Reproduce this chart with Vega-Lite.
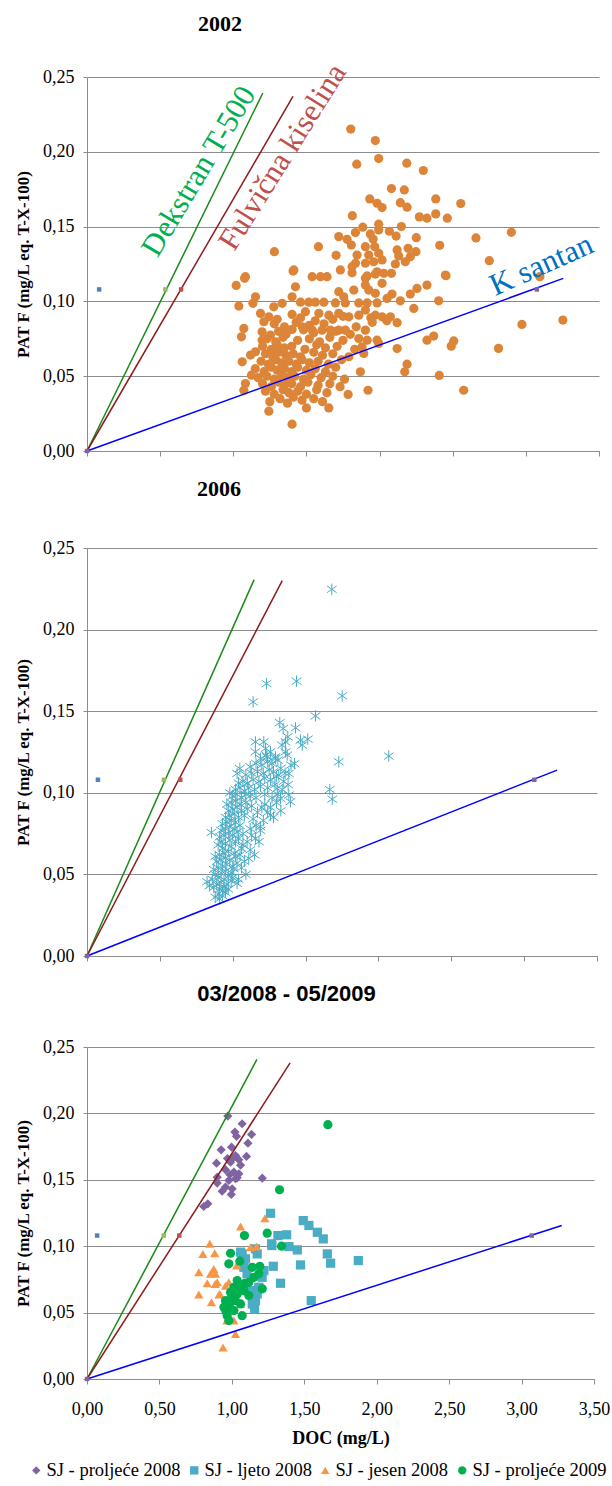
{
"$schema":"https://vega.github.io/schema/vega-lite/v6.json",
"padding":{"left":14,"top":12,"right":0,"bottom":0},
"spacing":18,
"config":{
 "view":{"stroke":null},
 "font":"Liberation Serif",
 "axis":{"labelFont":"Liberation Serif","labelFontSize":18,"labelColor":"#000","titleFont":"Liberation Serif","titleFontSize":17,"titleFontWeight":"bold","titleColor":"#000","domainColor":"#8c8c8c","tickColor":"#8c8c8c","gridColor":"#8c8c8c","gridOpacity":1,"labelFlush":false},
 "title":{"font":"Liberation Serif","fontSize":22,"fontWeight":"bold","color":"#000","anchor":"middle"}
},
"datasets":{
 "p2002":[
{"x":1.803,"y":0.2152},{"x":1.971,"y":0.2075},{"x":1.844,"y":0.1917},{"x":1.994,"y":0.1955},{"x":2.186,"y":0.1924},{"x":2.299,"y":0.1875},{"x":2.081,"y":0.1754},{"x":2.169,"y":0.1745},{"x":1.933,"y":0.1685},{"x":1.983,"y":0.1656},{"x":2.017,"y":0.1627},{"x":2.142,"y":0.166},{"x":2.188,"y":0.163},{"x":2.384,"y":0.1685},{"x":2.555,"y":0.1654},{"x":1.814,"y":0.1573},{"x":2.272,"y":0.1565},{"x":2.324,"y":0.1556},{"x":2.384,"y":0.1585},{"x":2.463,"y":0.1556},{"x":2.659,"y":0.1424},{"x":2.411,"y":0.1375},{"x":2.251,"y":0.1426},{"x":1.281,"y":0.1332},{"x":1.582,"y":0.1366},{"x":1.703,"y":0.1308},
{"x":1.721,"y":0.1433},{"x":1.778,"y":0.1415},{"x":1.807,"y":0.1377},{"x":1.835,"y":0.146},{"x":1.885,"y":0.1496},{"x":1.937,"y":0.1451},{"x":1.956,"y":0.1417},{"x":1.994,"y":0.1516},{"x":1.994,"y":0.1478},{"x":2.067,"y":0.1469},{"x":2.113,"y":0.1437},{"x":2.149,"y":0.15},{"x":1.903,"y":0.1366},{"x":1.967,"y":0.1366},{"x":1.994,"y":0.1322},{"x":1.926,"y":0.131},{"x":1.846,"y":0.131},{"x":1.835,"y":0.1255},{"x":1.903,"y":0.1255},{"x":1.96,"y":0.1265},{"x":2.017,"y":0.1277},{"x":2.12,"y":0.1344},{"x":2.131,"y":0.1304},{"x":2.195,"y":0.1355},{"x":2.21,"y":0.1299},{"x":2.249,"y":0.1332},{"x":2.108,"y":0.125},{"x":2.176,"y":0.1265},{"x":1.732,"y":0.121},{"x":1.812,"y":0.1232},{"x":1.812,"y":0.1192},{"x":1.915,"y":0.117},{"x":1.983,"y":0.1198},{"x":2.029,"y":0.1188},{"x":2.081,"y":0.1188},{"x":2.45,"y":0.1176},{"x":1.414,"y":0.121},{"x":1.083,"y":0.1165},{"x":1.539,"y":0.1165},{"x":1.596,"y":0.1165},{"x":1.641,"y":0.1165},{"x":2.75,"y":0.1272},
{"x":1.077,"y":0.1154},{"x":1.02,"y":0.1107},{"x":1.409,"y":0.1203},{"x":1.903,"y":0.1154},{"x":1.971,"y":0.1183},{"x":2.017,"y":0.1121},{"x":2.454,"y":0.1172},{"x":1.425,"y":0.1098},{"x":1.152,"y":0.1031},{"x":1.134,"y":0.0987},{"x":1.038,"y":0.0969},{"x":1.402,"y":0.1031},{"x":1.721,"y":0.1065},{"x":1.755,"y":0.1031},{"x":1.824,"y":0.1076},{"x":1.903,"y":0.1109},{"x":1.926,"y":0.1076},{"x":1.971,"y":0.1054},{"x":2.085,"y":0.1049},{"x":2.051,"y":0.102},{"x":2.142,"y":0.1004},{"x":2.21,"y":0.1049},{"x":2.256,"y":0.1087},{"x":2.324,"y":0.1109},{"x":2.234,"y":0.0953},{"x":2.404,"y":0.1004},{"x":1.277,"y":0.0964},{"x":1.334,"y":0.0987},{"x":1.459,"y":0.0995},{"x":1.516,"y":0.0995},{"x":1.561,"y":0.0995},{"x":1.619,"y":0.0995},{"x":1.698,"y":0.099},{"x":1.766,"y":0.099},{"x":1.858,"y":0.099},{"x":1.915,"y":0.099},{"x":1.983,"y":0.099},{"x":1.186,"y":0.092},{"x":1.209,"y":0.0864},{"x":1.243,"y":0.0897},{"x":1.402,"y":0.0913},{"x":1.493,"y":0.0931},{"x":1.585,"y":0.092},{"x":1.653,"y":0.0908},{"x":1.721,"y":0.092},{"x":1.79,"y":0.0897},{"x":1.858,"y":0.0908},{"x":1.903,"y":0.0942},{"x":1.971,"y":0.0908},{"x":2.017,"y":0.0897},{"x":2.074,"y":0.0897},{"x":2.12,"y":0.0858},{"x":1.072,"y":0.0819},{"x":1.056,"y":0.0763},{"x":1.197,"y":0.0797},{"x":1.197,"y":0.0741},{"x":1.254,"y":0.0775},{"x":1.402,"y":0.0813},{"x":1.471,"y":0.083},{"x":1.539,"y":0.0808},{"x":1.607,"y":0.0808},{"x":1.664,"y":0.0808},{"x":1.721,"y":0.0808},{"x":1.766,"y":0.0808},{"x":1.858,"y":0.0752},{"x":1.903,"y":0.0808},{"x":1.915,"y":0.0741},{"x":1.88,"y":0.0696},{"x":1.892,"y":0.0652},{"x":1.983,"y":0.0741},{"x":1.994,"y":0.0719},{"x":2.12,"y":0.0685},{"x":2.324,"y":0.0741},{"x":2.37,"y":0.0768},{"x":2.507,"y":0.0736},{"x":2.49,"y":0.0701},{"x":2.188,"y":0.058},{"x":2.172,"y":0.0529},{"x":2.408,"y":0.0505},{"x":2.575,"y":0.0406},{"x":1.921,"y":0.0406},{"x":1.869,"y":0.0529},{"x":1.785,"y":0.0378},{"x":1.653,"y":0.0288},{"x":1.5,"y":0.0288},{"x":1.402,"y":0.0179},{"x":1.243,"y":0.0266},{"x":1.061,"y":0.0596},{"x":1.118,"y":0.0641},{"x":1.152,"y":0.0663},{"x":1.124,"y":0.0507},{"x":1.083,"y":0.0451},{"x":1.072,"y":0.0406},
{"x":2.901,"y":0.1462},{"x":2.973,"y":0.0846},{"x":3.253,"y":0.0875},{"x":3.096,"y":0.1165},{"x":2.813,"y":0.0686},
{"x":1.25,"y":0.033},{"x":1.32,"y":0.035},{"x":1.37,"y":0.032},{"x":1.41,"y":0.036},{"x":1.47,"y":0.034},{"x":1.55,"y":0.035},{"x":1.61,"y":0.033},
{"x":1.22,"y":0.04},{"x":1.28,"y":0.038},{"x":1.34,"y":0.041},{"x":1.38,"y":0.039},{"x":1.44,"y":0.04},{"x":1.5,"y":0.038},{"x":1.57,"y":0.041},{"x":1.64,"y":0.039},
{"x":1.2,"y":0.045},{"x":1.26,"y":0.043},{"x":1.31,"y":0.046},{"x":1.35,"y":0.044},{"x":1.4,"y":0.045},{"x":1.46,"y":0.043},{"x":1.51,"y":0.046},{"x":1.58,"y":0.044},{"x":1.66,"y":0.045},{"x":1.73,"y":0.043},
{"x":1.17,"y":0.049},{"x":1.23,"y":0.05},{"x":1.28,"y":0.048},{"x":1.33,"y":0.051},{"x":1.37,"y":0.049},{"x":1.42,"y":0.05},{"x":1.48,"y":0.048},{"x":1.53,"y":0.051},{"x":1.6,"y":0.049},{"x":1.68,"y":0.05},{"x":1.76,"y":0.048},
{"x":1.15,"y":0.055},{"x":1.21,"y":0.053},{"x":1.26,"y":0.056},{"x":1.3,"y":0.054},{"x":1.35,"y":0.055},{"x":1.4,"y":0.053},{"x":1.44,"y":0.056},{"x":1.5,"y":0.054},{"x":1.56,"y":0.055},{"x":1.63,"y":0.053},{"x":1.7,"y":0.056},
{"x":1.19,"y":0.06},{"x":1.24,"y":0.058},{"x":1.29,"y":0.061},{"x":1.33,"y":0.059},{"x":1.38,"y":0.06},{"x":1.43,"y":0.058},{"x":1.47,"y":0.061},{"x":1.52,"y":0.059},{"x":1.58,"y":0.06},{"x":1.65,"y":0.058},{"x":1.74,"y":0.061},
{"x":1.22,"y":0.065},{"x":1.27,"y":0.063},{"x":1.31,"y":0.066},{"x":1.36,"y":0.064},{"x":1.41,"y":0.065},{"x":1.46,"y":0.063},{"x":1.55,"y":0.066},{"x":1.61,"y":0.064},{"x":1.68,"y":0.065},{"x":1.79,"y":0.063},
{"x":1.2,"y":0.07},{"x":1.26,"y":0.068},{"x":1.3,"y":0.071},{"x":1.35,"y":0.069},{"x":1.4,"y":0.07},{"x":1.49,"y":0.068},{"x":1.57,"y":0.071},{"x":1.63,"y":0.069},{"x":1.71,"y":0.07},{"x":1.83,"y":0.068},
{"x":1.23,"y":0.075},{"x":1.29,"y":0.073},{"x":1.34,"y":0.076},{"x":1.44,"y":0.074},{"x":1.52,"y":0.075},{"x":1.59,"y":0.073},{"x":1.66,"y":0.076},{"x":1.75,"y":0.074},
{"x":1.31,"y":0.08},{"x":1.36,"y":0.078},{"x":1.48,"y":0.081},{"x":1.55,"y":0.079},{"x":1.7,"y":0.08},{"x":1.8,"y":0.078},
{"x":1.28,"y":0.085},{"x":1.35,"y":0.083},{"x":1.43,"y":0.086},{"x":1.52,"y":0.084},{"x":1.62,"y":0.085},{"x":1.84,"y":0.083},{"x":1.95,"y":0.086},
{"x":1.3,"y":0.088},{"x":1.46,"y":0.089},{"x":1.56,"y":0.087},{"x":1.68,"y":0.088},{"x":1.75,"y":0.09},{"x":1.94,"y":0.089},{"x":2.05,"y":0.087}
 ],
 "p2006":[
{"x":1.232,"y":0.1669},{"x":1.438,"y":0.1684},{"x":1.14,"y":0.1557},{"x":1.751,"y":0.1594},{"x":1.568,"y":0.1471},{"x":2.071,"y":0.1225},{"x":1.728,"y":0.119},{"x":1.666,"y":0.102},{"x":1.683,"y":0.0961},{"x":1.68,"y":0.2247},{"x":1.323,"y":0.143},{"x":1.346,"y":0.1394},{"x":1.431,"y":0.1398},{"x":1.378,"y":0.1343},{"x":1.362,"y":0.1312},{"x":1.339,"y":0.1292},{"x":1.465,"y":0.1323},{"x":1.477,"y":0.1292},{"x":1.515,"y":0.1329},{"x":1.362,"y":0.1251},{"x":1.374,"y":0.1231},{"x":1.424,"y":0.1179},{"x":1.385,"y":0.1118},{"x":1.316,"y":0.1108},{"x":1.293,"y":0.121},{"x":1.156,"y":0.1312},{"x":1.213,"y":0.1312},{"x":1.156,"y":0.1251},{"x":1.225,"y":0.1271},{"x":1.236,"y":0.122},{"x":1.259,"y":0.1251},{"x":1.293,"y":0.122},{"x":1.049,"y":0.1149},{"x":1.03,"y":0.1118},{"x":1.385,"y":0.0986},{"x":1.396,"y":0.0945},{"x":1.328,"y":0.0965},{"x":1.305,"y":0.1026},{"x":1.259,"y":0.0863},{"x":1.19,"y":0.0792},{"x":1.156,"y":0.072},{"x":1.099,"y":0.07},{"x":1.11,"y":0.0598},{"x":0.854,"y":0.0757},{"x":0.824,"y":0.0455},{"x":1.03,"y":0.0445},{"x":1.007,"y":0.0536},
{"x":0.88,"y":0.036},{"x":0.9,"y":0.038},{"x":0.93,"y":0.037},{"x":0.95,"y":0.039},{"x":0.91,"y":0.041},{"x":0.87,"y":0.042},{"x":0.94,"y":0.042},{"x":0.97,"y":0.041},{"x":0.89,"y":0.044},{"x":0.92,"y":0.045},{"x":0.96,"y":0.044},{"x":0.99,"y":0.046},{"x":0.86,"y":0.047},{"x":0.9,"y":0.048},{"x":0.94,"y":0.047},{"x":0.97,"y":0.049},{"x":1.0,"y":0.048},{"x":0.88,"y":0.05},{"x":0.92,"y":0.051},{"x":0.95,"y":0.052},{"x":0.99,"y":0.051},{"x":0.84,"y":0.043},{"x":0.93,"y":0.04},{"x":0.91,"y":0.035},
{"x":0.87,"y":0.053},{"x":0.9,"y":0.054},{"x":0.93,"y":0.055},{"x":0.96,"y":0.056},{"x":1.0,"y":0.055},{"x":1.03,"y":0.057},{"x":0.89,"y":0.058},{"x":0.92,"y":0.059},{"x":0.95,"y":0.06},{"x":0.98,"y":0.059},{"x":1.02,"y":0.061},{"x":0.91,"y":0.062},{"x":0.94,"y":0.063},{"x":0.97,"y":0.064},{"x":1.01,"y":0.063},{"x":1.05,"y":0.062},{"x":0.88,"y":0.061},{"x":0.93,"y":0.066},{"x":0.99,"y":0.067},{"x":1.06,"y":0.066},{"x":1.08,"y":0.058},
{"x":0.9,"y":0.068},{"x":0.92,"y":0.07},{"x":0.95,"y":0.069},{"x":0.98,"y":0.071},{"x":1.02,"y":0.07},{"x":1.04,"y":0.072},{"x":0.91,"y":0.073},{"x":0.94,"y":0.074},{"x":0.97,"y":0.075},{"x":1.0,"y":0.074},{"x":1.03,"y":0.076},{"x":1.07,"y":0.075},{"x":0.92,"y":0.077},{"x":0.95,"y":0.078},{"x":0.98,"y":0.079},{"x":1.01,"y":0.078},{"x":1.05,"y":0.08},{"x":1.12,"y":0.078},{"x":0.93,"y":0.081},{"x":0.96,"y":0.082},{"x":0.99,"y":0.083},{"x":1.02,"y":0.082},
{"x":0.95,"y":0.085},{"x":0.98,"y":0.086},{"x":1.01,"y":0.087},{"x":1.04,"y":0.085},{"x":1.08,"y":0.086},{"x":1.14,"y":0.084},{"x":0.97,"y":0.089},{"x":1.0,"y":0.09},{"x":1.03,"y":0.091},{"x":1.06,"y":0.089},{"x":1.1,"y":0.09},{"x":1.17,"y":0.088},{"x":0.96,"y":0.093},{"x":0.99,"y":0.094},{"x":1.02,"y":0.095},{"x":1.05,"y":0.093},{"x":1.09,"y":0.094},{"x":1.13,"y":0.092},{"x":1.2,"y":0.091},
{"x":1.0,"y":0.098},{"x":1.03,"y":0.099},{"x":1.06,"y":0.097},{"x":1.09,"y":0.099},{"x":1.12,"y":0.098},{"x":1.16,"y":0.097},{"x":1.22,"y":0.099},{"x":1.27,"y":0.097},{"x":1.31,"y":0.099},{"x":0.98,"y":0.1},{"x":1.02,"y":0.102},{"x":1.05,"y":0.103},{"x":1.08,"y":0.101},{"x":1.11,"y":0.103},{"x":1.15,"y":0.102},{"x":1.19,"y":0.104},{"x":1.24,"y":0.103},{"x":1.29,"y":0.105},{"x":1.34,"y":0.102},{"x":1.04,"y":0.106},{"x":1.07,"y":0.107},{"x":1.1,"y":0.106},{"x":1.14,"y":0.108},{"x":1.18,"y":0.107},{"x":1.22,"y":0.109},{"x":1.26,"y":0.108},{"x":1.3,"y":0.11},{"x":1.35,"y":0.107},
{"x":1.09,"y":0.111},{"x":1.13,"y":0.112},{"x":1.17,"y":0.113},{"x":1.21,"y":0.112},{"x":1.25,"y":0.114},{"x":1.28,"y":0.113},{"x":1.33,"y":0.115},{"x":1.12,"y":0.116},{"x":1.16,"y":0.118},{"x":1.2,"y":0.117},{"x":1.24,"y":0.119},{"x":1.27,"y":0.118},{"x":1.31,"y":0.12},{"x":1.19,"y":0.121},{"x":1.23,"y":0.123},
{"x":1.22,"y":0.093},{"x":1.26,"y":0.091},{"x":1.3,"y":0.094},{"x":1.24,"y":0.088},{"x":1.33,"y":0.089},{"x":1.28,"y":0.085},{"x":1.21,"y":0.083},{"x":1.16,"y":0.08},{"x":1.13,"y":0.074},{"x":1.18,"y":0.07},{"x":1.07,"y":0.068},{"x":1.12,"y":0.065},{"x":1.06,"y":0.054},{"x":1.09,"y":0.05},{"x":1.04,"y":0.047},{"x":1.15,"y":0.062},{"x":1.19,"y":0.077},{"x":1.36,"y":0.112},{"x":1.4,"y":0.117},{"x":1.38,"y":0.105}
 ],
 "p0809":[
{"s":"SJ - proljeće 2008","x":0.972,"y":0.198},{"s":"SJ - proljeće 2008","x":1.071,"y":0.1922},{"s":"SJ - proljeće 2008","x":1.021,"y":0.1859},{"s":"SJ - proljeće 2008","x":1.032,"y":0.1827},{"s":"SJ - proljeće 2008","x":1.136,"y":0.1842},{"s":"SJ - proljeće 2008","x":1.111,"y":0.1776},{"s":"SJ - proljeće 2008","x":0.926,"y":0.1726},{"s":"SJ - proljeće 2008","x":0.998,"y":0.1746},{"s":"SJ - proljeće 2008","x":1.025,"y":0.1683},{"s":"SJ - proljeće 2008","x":1.002,"y":0.1659},{"s":"SJ - proljeće 2008","x":1.048,"y":0.1651},{"s":"SJ - proljeće 2008","x":0.991,"y":0.1633},{"s":"SJ - proljeće 2008","x":1.101,"y":0.1676},{"s":"SJ - proljeće 2008","x":0.894,"y":0.1625},{"s":"SJ - proljeće 2008","x":0.956,"y":0.1576},{"s":"SJ - proljeće 2008","x":1.014,"y":0.1558},{"s":"SJ - proljeće 2008","x":1.048,"y":0.1545},{"s":"SJ - proljeće 2008","x":0.986,"y":0.154},{"s":"SJ - proljeće 2008","x":1.025,"y":0.1508},{"s":"SJ - proljeće 2008","x":0.979,"y":0.1495},{"s":"SJ - proljeće 2008","x":1.037,"y":0.1515},{"s":"SJ - proljeće 2008","x":0.899,"y":0.152},{"s":"SJ - proljeće 2008","x":0.899,"y":0.1475},{"s":"SJ - proljeće 2008","x":1.21,"y":0.1512},{"s":"SJ - proljeće 2008","x":0.956,"y":0.1445},{"s":"SJ - proljeće 2008","x":1.002,"y":0.1432},{"s":"SJ - proljeće 2008","x":0.933,"y":0.1414},{"s":"SJ - proljeće 2008","x":0.996,"y":0.139},{"s":"SJ - proljeće 2008","x":0.806,"y":0.1299},{"s":"SJ - proljeće 2008","x":0.834,"y":0.1319},{"s":"SJ - proljeće 2008","x":1.06,"y":0.161},{"s":"SJ - proljeće 2008","x":0.97,"y":0.166},
{"s":"SJ - ljeto 2008","x":1.267,"y":0.1248},{"s":"SJ - ljeto 2008","x":1.493,"y":0.1193},{"s":"SJ - ljeto 2008","x":1.532,"y":0.1156},{"s":"SJ - ljeto 2008","x":1.59,"y":0.1105},{"s":"SJ - ljeto 2008","x":1.631,"y":0.1055},{"s":"SJ - ljeto 2008","x":1.318,"y":0.108},{"s":"SJ - ljeto 2008","x":1.378,"y":0.1086},{"s":"SJ - ljeto 2008","x":1.274,"y":0.1018},{"s":"SJ - ljeto 2008","x":1.394,"y":0.0997},{"s":"SJ - ljeto 2008","x":1.452,"y":0.0972},{"s":"SJ - ljeto 2008","x":1.659,"y":0.0942},{"s":"SJ - ljeto 2008","x":1.682,"y":0.0872},{"s":"SJ - ljeto 2008","x":1.873,"y":0.0892},{"s":"SJ - ljeto 2008","x":1.474,"y":0.0859},{"s":"SJ - ljeto 2008","x":1.286,"y":0.0849},{"s":"SJ - ljeto 2008","x":1.336,"y":0.0721},{"s":"SJ - ljeto 2008","x":1.548,"y":0.059},{"s":"SJ - ljeto 2008","x":1.071,"y":0.0942},{"s":"SJ - ljeto 2008","x":1.094,"y":0.0905},{"s":"SJ - ljeto 2008","x":1.163,"y":0.098},{"s":"SJ - ljeto 2008","x":1.175,"y":0.0942},{"s":"SJ - ljeto 2008","x":1.083,"y":0.0841},{"s":"SJ - ljeto 2008","x":1.105,"y":0.0792},{"s":"SJ - ljeto 2008","x":1.221,"y":0.0816},{"s":"SJ - ljeto 2008","x":1.209,"y":0.0766},{"s":"SJ - ljeto 2008","x":1.186,"y":0.0691},{"s":"SJ - ljeto 2008","x":1.175,"y":0.0641},{"s":"SJ - ljeto 2008","x":1.163,"y":0.059},{"s":"SJ - ljeto 2008","x":1.157,"y":0.0528},{"s":"SJ - ljeto 2008","x":1.141,"y":0.0565},{"s":"SJ - ljeto 2008","x":1.06,"y":0.0955},{"s":"SJ - ljeto 2008","x":1.276,"y":0.1005},{"s":"SJ - ljeto 2008","x":1.128,"y":0.0666},
{"s":"SJ - jesen 2008","x":1.228,"y":0.1211},{"s":"SJ - jesen 2008","x":1.06,"y":0.1148},{"s":"SJ - jesen 2008","x":0.848,"y":0.1018},{"s":"SJ - jesen 2008","x":0.8,"y":0.0942},{"s":"SJ - jesen 2008","x":0.882,"y":0.0947},{"s":"SJ - jesen 2008","x":1.129,"y":0.0992},{"s":"SJ - jesen 2008","x":1.17,"y":0.0997},{"s":"SJ - jesen 2008","x":0.875,"y":0.0829},{"s":"SJ - jesen 2008","x":0.853,"y":0.0792},{"s":"SJ - jesen 2008","x":0.887,"y":0.0792},{"s":"SJ - jesen 2008","x":0.899,"y":0.0728},{"s":"SJ - jesen 2008","x":0.772,"y":0.0804},{"s":"SJ - jesen 2008","x":0.83,"y":0.0721},{"s":"SJ - jesen 2008","x":0.772,"y":0.0636},{"s":"SJ - jesen 2008","x":0.859,"y":0.0578},{"s":"SJ - jesen 2008","x":0.917,"y":0.0641},{"s":"SJ - jesen 2008","x":0.956,"y":0.0703},{"s":"SJ - jesen 2008","x":0.979,"y":0.0728},{"s":"SJ - jesen 2008","x":1.014,"y":0.044},{"s":"SJ - jesen 2008","x":1.025,"y":0.0339},{"s":"SJ - jesen 2008","x":0.939,"y":0.0238},{"s":"SJ - jesen 2008","x":0.885,"y":0.0716},{"s":"SJ - jesen 2008","x":0.912,"y":0.0636},{"s":"SJ - jesen 2008","x":1.033,"y":0.0854},{"s":"SJ - jesen 2008","x":0.966,"y":0.044},{"s":"SJ - jesen 2008","x":1.06,"y":0.0565},
{"s":"SJ - proljeće 2009","x":1.663,"y":0.1915},{"s":"SJ - proljeće 2009","x":1.329,"y":0.1425},{"s":"SJ - proljeće 2009","x":1.244,"y":0.1098},{"s":"SJ - proljeće 2009","x":1.087,"y":0.108},{"s":"SJ - proljeće 2009","x":1.343,"y":0.1},{"s":"SJ - proljeće 2009","x":0.991,"y":0.0947},{"s":"SJ - proljeće 2009","x":0.979,"y":0.0867},{"s":"SJ - proljeće 2009","x":1.055,"y":0.0887},{"s":"SJ - proljeće 2009","x":1.141,"y":0.0841},{"s":"SJ - proljeće 2009","x":1.193,"y":0.0849},{"s":"SJ - proljeće 2009","x":1.186,"y":0.0792},{"s":"SJ - proljeće 2009","x":1.037,"y":0.0741},{"s":"SJ - proljeće 2009","x":1.014,"y":0.0691},{"s":"SJ - proljeće 2009","x":1.071,"y":0.0703},{"s":"SJ - proljeće 2009","x":1.117,"y":0.0728},{"s":"SJ - proljeće 2009","x":1.152,"y":0.0766},{"s":"SJ - proljeće 2009","x":1.21,"y":0.0679},{"s":"SJ - proljeće 2009","x":0.991,"y":0.0653},{"s":"SJ - proljeće 2009","x":1.037,"y":0.0641},{"s":"SJ - proljeće 2009","x":1.083,"y":0.0666},{"s":"SJ - proljeće 2009","x":1.117,"y":0.0628},{"s":"SJ - proljeće 2009","x":0.956,"y":0.059},{"s":"SJ - proljeće 2009","x":0.991,"y":0.0578},{"s":"SJ - proljeće 2009","x":1.025,"y":0.059},{"s":"SJ - proljeće 2009","x":1.06,"y":0.0565},{"s":"SJ - proljeće 2009","x":0.945,"y":0.054},{"s":"SJ - proljeće 2009","x":0.979,"y":0.0528},{"s":"SJ - proljeće 2009","x":1.014,"y":0.0515},{"s":"SJ - proljeće 2009","x":0.968,"y":0.0477},{"s":"SJ - proljeće 2009","x":0.979,"y":0.044},{"s":"SJ - proljeće 2009","x":1.071,"y":0.0477},{"s":"SJ - proljeće 2009","x":1.05,"y":0.069},{"s":"SJ - proljeće 2009","x":1.0,"y":0.062},{"s":"SJ - proljeće 2009","x":1.09,"y":0.072},{"s":"SJ - proljeće 2009","x":0.96,"y":0.051}
 ],
 "l2002":[{"s":"D","x":0,"y":0},{"s":"D","x":1.202,"y":0.2393},{"s":"F","x":0,"y":0},{"s":"F","x":1.408,"y":0.237},{"s":"K","x":0,"y":0},{"s":"K","x":3.256,"y":0.1154}],
 "l2006":[{"s":"D","x":0,"y":0},{"s":"D","x":1.147,"y":0.2306},{"s":"F","x":0,"y":0},{"s":"F","x":1.34,"y":0.23},{"s":"K","x":0,"y":0},{"s":"K","x":3.226,"y":0.1139}],
 "l0809":[{"s":"D","x":0,"y":0},{"s":"D","x":1.173,"y":0.2407},{"s":"F","x":0,"y":0},{"s":"F","x":1.402,"y":0.238},{"s":"K","x":0,"y":0},{"s":"K","x":3.277,"y":0.1156}],
 "r2002":[{"s":"a","x":0.083,"y":0.108},{"s":"b","x":0.536,"y":0.108},{"s":"c","x":0.643,"y":0.108},{"s":"d","x":3.075,"y":0.108},{"s":"d","x":0,"y":0}],
 "r2006":[{"s":"a","x":0.075,"y":0.108},{"s":"b","x":0.528,"y":0.108},{"s":"c","x":0.64,"y":0.108},{"s":"d","x":3.07,"y":0.108},{"s":"d","x":0,"y":0}],
 "r0809":[{"s":"a","x":0.07,"y":0.108},{"s":"b","x":0.53,"y":0.108},{"s":"c","x":0.637,"y":0.108},{"s":"d","x":3.07,"y":0.108},{"s":"d","x":0,"y":0}]
},
"vconcat":[
{
 "width":512,"height":374,
 "title":{"text":"2002","dx":-123,"offset":23},
 "layer":[
  {"data":{"name":"p2002"},"mark":{"type":"point","shape":"circle","filled":true,"opacity":1,"size":85,"color":"#dc8539"},
   "encoding":{
    "x":{"field":"x","type":"quantitative","scale":{"domain":[0,3.5],"nice":false},"axis":{"values":[0,0.5,1,1.5,2,2.5,3,3.5],"labels":false,"title":null,"grid":false,"tickSize":5}},
    "y":{"field":"y","type":"quantitative","scale":{"domain":[0,0.25],"nice":false},"axis":{"values":[0,0.05,0.1,0.15,0.2,0.25],"labelExpr":"replace(format(datum.value,'.2f'),'.',',')","labelFont":"Liberation Serif","titleFont":"Liberation Serif","title":"PAT F (mg/L eq. T-X-100)","tickSize":4,"labelPadding":9,"titlePadding":10,"grid":true}}}},
  {"data":{"name":"l2002"},"mark":{"type":"line","strokeWidth":1.5},
   "encoding":{"x":{"field":"x","type":"quantitative"},"y":{"field":"y","type":"quantitative"},"stroke":{"field":"s","type":"nominal","scale":{"domain":["D","F","K"],"range":["#188a18","#8e1b1b","#0000ff"]},"legend":null}}},
  {"data":{"name":"r2002"},"mark":{"type":"point","shape":"square","filled":true,"opacity":1,"size":20},
   "encoding":{"x":{"field":"x","type":"quantitative"},"y":{"field":"y","type":"quantitative"},"fill":{"field":"s","type":"nominal","scale":{"domain":["a","b","c","d"],"range":["#4f81bd","#9bbb59","#c0504d","#8064a2"]},"legend":null}}},
  {"data":{"values":[{"t":"Dekstran T-500","x":0.768,"y":0.1868}]},"mark":{"type":"text","angle":-59,"fontSize":31,"font":"Liberation Serif","color":"#00b050","align":"center","baseline":"middle"},
   "encoding":{"x":{"field":"x","type":"quantitative"},"y":{"field":"y","type":"quantitative"},"text":{"field":"t"}}},
  {"data":{"values":[{"t":"Fulvična kiselina","x":1.34,"y":0.1963}]},"mark":{"type":"text","angle":-58,"fontSize":31,"font":"Liberation Serif","color":"#c0504d","align":"center","baseline":"middle"},
   "encoding":{"x":{"field":"x","type":"quantitative"},"y":{"field":"y","type":"quantitative"},"text":{"field":"t"}}},
  {"data":{"values":[{"t":"K santan","x":3.107,"y":0.124}]},"mark":{"type":"text","angle":-24,"fontSize":31,"font":"Liberation Serif","color":"#0070c0","align":"center","baseline":"middle"},
   "encoding":{"x":{"field":"x","type":"quantitative"},"y":{"field":"y","type":"quantitative"},"text":{"field":"t"}}}
 ]
},
{
 "width":510,"height":408,
 "title":{"text":"2006","dx":-123,"offset":38},
 "layer":[
  {"data":{"name":"p2006"},"mark":{"type":"point","shape":"M0,-1L0,1M-0.85,-0.6L0.85,0.6M-0.85,0.6L0.85,-0.6","filled":false,"opacity":1,"size":130,"strokeWidth":1,"color":"#4bacc6"},
   "encoding":{
    "x":{"field":"x","type":"quantitative","scale":{"domain":[0,3.5],"nice":false},"axis":{"values":[0,0.5,1,1.5,2,2.5,3,3.5],"labels":false,"title":null,"grid":false,"tickSize":5}},
    "y":{"field":"y","type":"quantitative","scale":{"domain":[0,0.25],"nice":false},"axis":{"values":[0,0.05,0.1,0.15,0.2,0.25],"labelExpr":"replace(format(datum.value,'.2f'),'.',',')","labelFont":"Liberation Serif","titleFont":"Liberation Serif","title":"PAT F (mg/L eq. T-X-100)","tickSize":4,"labelPadding":9,"titlePadding":10,"grid":true}}}},
  {"data":{"name":"l2006"},"mark":{"type":"line","strokeWidth":1.5},
   "encoding":{"x":{"field":"x","type":"quantitative"},"y":{"field":"y","type":"quantitative"},"stroke":{"field":"s","type":"nominal","scale":{"domain":["D","F","K"],"range":["#188a18","#8e1b1b","#0000ff"]},"legend":null}}},
  {"data":{"name":"r2006"},"mark":{"type":"point","shape":"square","filled":true,"opacity":1,"size":20},
   "encoding":{"x":{"field":"x","type":"quantitative"},"y":{"field":"y","type":"quantitative"},"fill":{"field":"s","type":"nominal","scale":{"domain":["a","b","c","d"],"range":["#4f81bd","#9bbb59","#c0504d","#8064a2"]},"legend":null}}}
 ]
},
{
 "width":507,"height":332,
 "title":{"text":"03/2008 - 05/2009","dx":-54,"dy":7,"offset":39,"font":"Liberation Sans","fontSize":22},
 "layer":[
  {"data":{"name":"p0809"},"mark":{"type":"point","filled":true,"opacity":1,"size":85},
   "encoding":{
    "x":{"field":"x","type":"quantitative","scale":{"domain":[0,3.5],"nice":false},"axis":{"values":[0,0.5,1,1.5,2,2.5,3,3.5],"labelExpr":"replace(format(datum.value,'.2f'),'.',',')","labelFont":"Liberation Serif","titleFont":"Liberation Serif","title":"DOC (mg/L)","titleFontSize":18,"grid":false,"tickSize":5,"labelPadding":16,"titlePadding":11}},
    "y":{"field":"y","type":"quantitative","scale":{"domain":[0,0.25],"nice":false},"axis":{"values":[0,0.05,0.1,0.15,0.2,0.25],"labelExpr":"replace(format(datum.value,'.2f'),'.',',')","labelFont":"Liberation Serif","titleFont":"Liberation Serif","title":"PAT F (mg/L eq. T-X-100)","tickSize":4,"labelPadding":9,"titlePadding":10,"grid":true}},
    "color":{"field":"s","type":"nominal","scale":{"domain":["SJ - proljeće 2008","SJ - ljeto 2008","SJ - jesen 2008","SJ - proljeće 2009"],"range":["#8064a2","#4bacc6","#f79646","#00b050"]},
      "legend":{"title":null,"orient":"none","legendX":-60,"legendY":1384,"direction":"horizontal","labelFont":"Liberation Serif","labelFontSize":18.5,"labelColor":"#000","symbolSize":70,"columnPadding":4,"labelOffset":1}},
    "shape":{"field":"s","type":"nominal","scale":{"domain":["SJ - proljeće 2008","SJ - ljeto 2008","SJ - jesen 2008","SJ - proljeće 2009"],"range":["diamond","square","triangle-up","circle"]},
      "legend":{"title":null,"orient":"none","legendX":-60,"legendY":1384,"direction":"horizontal","labelFont":"Liberation Serif","labelFontSize":18.5,"labelColor":"#000","symbolSize":70,"columnPadding":4,"labelOffset":1}}}},
  {"data":{"name":"l0809"},"mark":{"type":"line","strokeWidth":1.5},
   "encoding":{"x":{"field":"x","type":"quantitative"},"y":{"field":"y","type":"quantitative"},"stroke":{"field":"s","type":"nominal","scale":{"domain":["D","F","K"],"range":["#188a18","#8e1b1b","#0000ff"]},"legend":null}}},
  {"data":{"name":"r0809"},"mark":{"type":"point","shape":"square","filled":true,"opacity":1,"size":20},
   "encoding":{"x":{"field":"x","type":"quantitative"},"y":{"field":"y","type":"quantitative"},"fill":{"field":"s","type":"nominal","scale":{"domain":["a","b","c","d"],"range":["#4f81bd","#9bbb59","#c0504d","#8064a2"]},"legend":null}}}
 ]
}
]
}
